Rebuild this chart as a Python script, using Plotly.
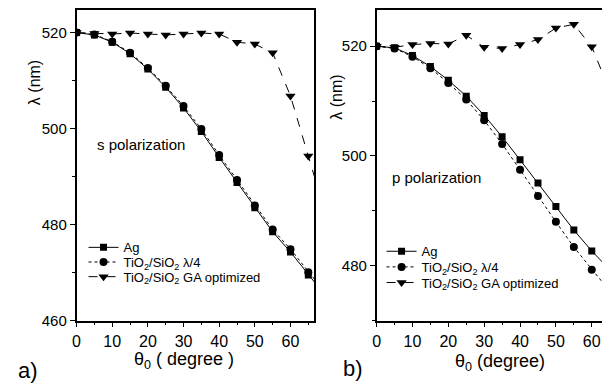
import plotly.graph_objects as go

# ---- data ----
theta_s = [0, 5, 10, 15, 20, 25, 30, 35, 40, 45, 50, 55, 60, 65, 70]
s_ag = [520, 519.5, 518.0, 515.6, 512.4, 508.6, 504.3, 499.4, 494.0, 488.8, 483.5, 478.5, 474.3, 469.5, 465.0]
s_qw = [520, 519.6, 518.1, 515.8, 512.6, 508.9, 504.7, 499.9, 494.5, 489.3, 484.0, 479.0, 474.9, 470.1, 465.6]
s_ga = [520, 519.8, 519.7, 519.9, 519.7, 519.5, 519.7, 519.9, 519.7, 518.0, 517.6, 515.8, 506.8, 494.3, 481.8]

theta_p = [0, 5, 10, 15, 20, 25, 30, 35, 40, 45, 50, 55, 60, 65]
p_ag = [520, 519.7, 518.3, 516.3, 513.8, 510.9, 507.4, 503.5, 499.3, 495.1, 490.8, 486.5, 482.7, 479.3]
p_qw = [520, 519.6, 518.1, 516.0, 513.3, 510.3, 506.5, 502.2, 497.5, 492.7, 488.0, 483.4, 479.3, 475.4]
p_ga = [520, 519.8, 520.3, 520.5, 520.4, 522.0, 519.8, 519.6, 520.3, 521.2, 523.3, 524.0, 519.9, 511.9]

names = ["Ag", "TiO<sub>2</sub>/SiO<sub>2</sub> λ/4", "TiO<sub>2</sub>/SiO<sub>2</sub> GA optimized"]
x_ticks = [0, 10, 20, 30, 40, 50, 60]

FONT = "Liberation Sans, Arial, sans-serif"
W, H = 610, 392
OFF = 8  # page body margin offset


def px(x):
    return min(1.0, max(0.0, (x - OFF) / W))


def py(y):
    return min(1.0, max(0.0, 1 - (y - OFF) / H))


fig = go.Figure()

styles = [
    dict(dash="solid", symbol="square", size=7),
    dict(dash="dot", symbol="circle", size=8),
    dict(dash="dash", symbol="triangle-down", size=9),
]

left_rows = [252, 267, 282]
right_rows = [256, 272, 288]
left_legs = ["legend", "legend2", "legend3"]
right_legs = ["legend4", "legend5", "legend6"]

for ys, st, nm, lg in zip([s_ag, s_qw, s_ga], styles, names, left_legs):
    fig.add_trace(go.Scatter(
        x=theta_s, y=ys, name=nm, mode="lines+markers",
        line=dict(color="black", width=1, dash=st["dash"]),
        marker=dict(symbol=st["symbol"], size=st["size"], color="black"),
        xaxis="x", yaxis="y", legend=lg, cliponaxis=True))

for ys, st, nm, lg in zip([p_ag, p_qw, p_ga], styles, names, right_legs):
    fig.add_trace(go.Scatter(
        x=theta_p, y=ys, name=nm, mode="lines+markers",
        line=dict(color="black", width=1, dash=st["dash"]),
        marker=dict(symbol=st["symbol"], size=st["size"], color="black"),
        xaxis="x2", yaxis="y2", legend=lg, cliponaxis=True))

line_common = dict(showline=True, linecolor="black", linewidth=1.5, showgrid=False,
                   zeroline=False, ticks="outside", ticklen=5, tickwidth=1.3, tickcolor="black")
xfont = dict(family=FONT, size=16, color="black")
yfont = dict(family=FONT, size=15, color="black")
minor_x = dict(dtick=5, ticks="outside", ticklen=3, tickcolor="black")
minor_y = dict(dtick=10, ticks="outside", ticklen=3, tickcolor="black")

layout = dict(
    width=W, height=H,
    margin=dict(l=0, r=0, t=0, b=0),
    paper_bgcolor="white", plot_bgcolor="white",
    font=dict(family=FONT, color="black"),
    xaxis=dict(domain=[px(73), px(312)], range=[0, 66.6], anchor="y", mirror=True,
               tickvals=x_ticks, minor=minor_x, tickfont=xfont, **line_common),
    yaxis=dict(domain=[py(327), py(9)], range=[460, 524.7], anchor="x", mirror=True,
               dtick=20, tick0=460, minor=minor_y, tickfont=yfont, **line_common),
    xaxis2=dict(domain=[px(375), px(610)], range=[0, 65.1], anchor="y2", mirror=True,
                tickvals=x_ticks, minor=minor_x, tickfont=xfont, **line_common),
    yaxis2=dict(domain=[py(327), py(9)], range=[470.0, 526.6], anchor="x2", mirror=False,
                dtick=20, tick0=480, minor=minor_y, tickfont=yfont, **line_common),
    showlegend=True,
)

for lg, row in zip(left_legs, left_rows):
    layout[lg] = dict(x=px(80), y=py(row), xanchor="left", yanchor="middle",
                      bgcolor="rgba(0,0,0,0)", font=dict(family=FONT, size=13, color="black"),
                      itemwidth=30)
for lg, row in zip(right_legs, right_rows):
    layout[lg] = dict(x=px(380), y=py(row), xanchor="left", yanchor="middle",
                      bgcolor="rgba(0,0,0,0)", font=dict(family=FONT, size=13, color="black"),
                      itemwidth=30)

fig.update_layout(**layout)

annots = [
    dict(x=px(30), y=py(83), text="λ (nm)", textangle=-90, size=16),
    dict(x=px(335), y=py(98), text="λ (nm)", textangle=-90, size=16),
    dict(x=px(181), y=py(368), text="θ<sub>0</sub> ( degree )", textangle=0, size=18),
    dict(x=px(499), y=py(370), text="θ<sub>0</sub> (degree)", textangle=0, size=18),
    dict(x=px(24), y=py(378), text="a)", textangle=0, size=22),
    dict(x=px(351), y=py(376), text="b)", textangle=0, size=22),
]
for a in annots:
    fig.add_annotation(x=a["x"], y=a["y"], xref="paper", yref="paper", text=a["text"],
                       textangle=a["textangle"], showarrow=False,
                       font=dict(family=FONT, size=a["size"], color="black"),
                       xanchor="center", yanchor="middle")

fig.add_annotation(x=px(92), y=py(147), xref="paper", yref="paper", text="s polarization",
                   showarrow=False, xanchor="left", yanchor="middle",
                   font=dict(family=FONT, size=15, color="black"))
fig.add_annotation(x=px(388), y=py(180), xref="paper", yref="paper", text="p polarization",
                   showarrow=False, xanchor="left", yanchor="middle",
                   font=dict(family=FONT, size=15, color="black"))

fig.write_html("out.html")
